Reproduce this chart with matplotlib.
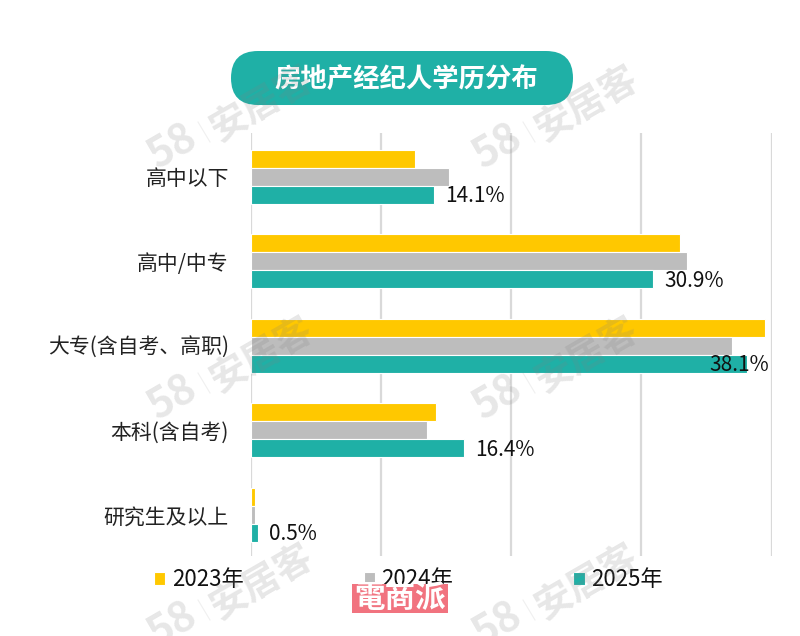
import matplotlib
matplotlib.use("Agg")
from matplotlib import pyplot as plt
from matplotlib.patches import FancyBboxPatch, Rectangle
import numpy as np

plt.rcParams["font.family"] = ["Noto Sans CJK SC", "DejaVu Sans"]

# ---------------------------------------
# Data
# ---------------------------------------

categories = ["高中以下", "高中/中专", "大专(含自考、高职)", "本科(含自考)", "研究生及以上"]
years = ["2023年", "2024年", "2025年"]
values_2023 = [12.6, 33.0, 39.5, 14.2, 0.3]
values_2024 = [15.2, 33.5, 37.0, 13.5, 0.3]
values_2025 = [14.1, 30.9, 38.1, 16.4, 0.5]

title = "房地产经纪人学历分布"
colors = ["#FFC800", "#BDBDBD", "#1FB0A6"]

# ---------------------------------------
# Chart
# ---------------------------------------

W, H = 800, 636
fig = plt.figure(figsize=(W / 100, H / 100), dpi=100, facecolor="white")
ax = fig.add_axes([251 / W, 1 - 556 / H, (771.5 - 251) / W, (556 - 133) / H])

y = np.arange(len(categories))
bar_step = 0.213
bars = []
for i, (vals, color, year) in enumerate(zip([values_2023, values_2024, values_2025], colors, years)):
    b = ax.barh(y + (i - 1) * bar_step, vals, height=0.212, color=color, edgecolor="white",
                linewidth=0.8, label=year, zorder=3)
    bars.append(b)

# labels only on the 2025 bars, the longest one is pulled back over its bar
for pos, v in zip(y, values_2025):
    if v > 36:
        ax.annotate(f"{v}%", (v, pos + bar_step), xytext=(16, -1), textcoords="offset points",
                    ha="right", va="center", fontsize=15, color="#111111", zorder=5)
    else:
        ax.annotate(f"{v}%", (v, pos + bar_step), xytext=(8, -1), textcoords="offset points",
                    ha="left", va="center", fontsize=15, color="#111111", zorder=5)

ax.set_xlim(0, 40)
ax.set_ylim(len(categories) - 0.5 - 0.015, -0.5 - 0.015)
ax.set_xticks([0, 10, 20, 30, 40])
ax.set_xticklabels([])
ax.set_yticks(y)
ax.set_yticklabels(categories, fontsize=15, color="#222222")
ax.tick_params(axis="both", length=0)
ax.tick_params(axis="y", pad=16)
ax.grid(axis="x", color="#D9D9D9", linewidth=1.6, zorder=0)
ax.set_axisbelow(True)
for s in ax.spines.values():
    s.set_visible(False)

fig.legend(handles=[b[0] for b in bars], labels=years, loc="center", bbox_to_anchor=(408.5 / W, 1 - 580 / H),
           ncol=3, frameon=False, fontsize=16, handlelength=0.5, handleheight=0.5,
           handletextpad=0.3, columnspacing=5.4, labelcolor="#111111", borderpad=0, borderaxespad=0)

# ---------------------------------------
# Title pill, watermarks and stamp in pixel coordinates
# ---------------------------------------

over = fig.add_axes([0, 0, 1, 1], zorder=10)
over.set_xlim(0, W)
over.set_ylim(H, 0)
over.axis("off")

over.add_patch(FancyBboxPatch((258, 78), 288, 0.01, boxstyle="round,pad=27,rounding_size=27",
                              facecolor=colors[2], edgecolor="none", zorder=1))
over.text(406, 79, title, color="white", fontsize=19, fontweight="bold", ha="center", va="center", zorder=2)

# repeating 58 | 安居客 watermark
for x0 in [173, 498]:
    for y0 in [147, 398, 625]:
        over.text(x0, y0, "58", color="#808080", alpha=0.19, fontsize=30, fontweight="bold",
                  rotation=30, ha="center", va="center", zorder=3)
        over.plot([x0 + 25, x0 + 37], [y0 - 25, y0 - 5], color="#808080", alpha=0.12, lw=0.8, zorder=3)
        over.text(x0 + 89, y0 - 43, "安居客", color="#808080", alpha=0.19, fontsize=27, fontweight="bold",
                  rotation=30, ha="center", va="center", zorder=3)

over.add_patch(Rectangle((352, 584), 96, 29, facecolor="#F1737F", edgecolor="none", zorder=4))
over.text(400, 598, "電商派", color="white", fontsize=22, fontweight="bold", family=["Noto Sans CJK TC"],
          ha="center", va="center", zorder=5)

fig.savefig("out.png", dpi=100)
